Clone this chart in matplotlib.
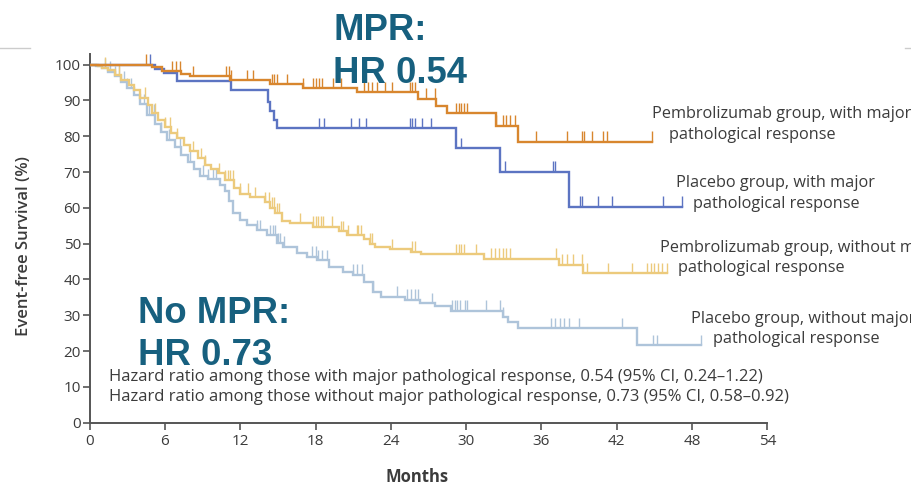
import numpy as np
import matplotlib
matplotlib.use("Agg")
import matplotlib.pyplot as plt
from matplotlib.lines import Line2D

# ---- Kaplan-Meier data (months, event-free survival %) ----
# Pembrolizumab group, with major pathological response
pem_mpr_t = [5.0, 5.8, 7.3, 8.0, 11.2, 14.4, 17.0, 21.3, 26.2, 27.6, 28.5, 32.4, 34.1]
pem_mpr_s = [99.4, 98.2, 97.4, 96.7, 95.7, 94.6, 93.5, 92.3, 90.5, 88.4, 86.4, 82.9, 78.5]
pem_mpr_end = 44.8
pem_mpr_cens = [4.5, 6.6, 6.9, 7.2, 8.2, 10.9, 11.1, 11.3, 12.5, 13.0, 14.5, 14.7, 14.9,
                15.7, 17.0, 17.8, 18.0, 18.3, 18.5, 19.4, 20.0, 21.9, 22.2, 22.5, 22.9,
                23.5, 24.1, 25.5, 25.7, 25.9, 26.8, 27.5, 29.2, 29.4, 29.6, 29.8, 30.1,
                32.4, 32.9, 33.2, 33.5, 33.9, 35.6, 38.0, 39.2, 39.4, 40.0, 40.9, 41.2, 44.8]

# Placebo group, with major pathological response
pla_mpr_t = [5.2, 5.9, 7.0, 11.3, 14.2, 14.4, 14.7, 14.9, 29.2, 32.7, 38.2]
pla_mpr_s = [98.8, 97.6, 95.3, 92.9, 89.5, 87.0, 84.5, 82.2, 76.6, 70.1, 60.3]
pla_mpr_end = 47.2
pla_mpr_cens = [4.8, 18.3, 18.7, 20.8, 21.5, 22.0, 25.5, 25.7, 25.9, 26.5, 27.2, 29.6,
                33.1, 36.9, 37.1, 39.1, 39.2, 40.5, 41.6, 45.7, 47.2]

# Pembrolizumab group, without major pathological response
pem_no_t = [0.7, 1.0, 1.5, 2.0, 2.5, 3.1, 3.5, 4.0, 4.65, 5.0, 5.45, 6.0, 6.5, 7.0, 7.5,
            8.0, 8.6, 9.2, 9.7, 10.2, 10.8, 11.5, 12.0, 12.8, 14.0, 14.4, 14.8, 15.3,
            16.0, 17.8, 19.9, 20.5, 21.9, 22.3, 22.7, 23.9, 25.6, 26.4, 31.4, 37.4, 39.3]
pem_no_s = [99.6, 99.2, 98.5, 97.2, 95.8, 94.3, 92.8, 90.8, 88.7, 86.5, 84.5, 82.6, 81.0,
            79.4, 77.6, 75.9, 73.9, 72.0, 70.8, 69.7, 67.8, 65.5, 64.0, 63.0, 61.5, 60.0,
            58.5, 56.2, 55.7, 54.7, 53.4, 52.4, 51.2, 50.0, 49.0, 48.5, 47.8, 47.0, 45.8,
            44.1, 41.7]
pem_no_end = 46.0
pem_no_cens = [1.2, 2.3, 4.4, 5.2, 6.0, 6.4, 7.0, 8.2, 8.9, 9.2, 10.3, 10.8, 11.0, 11.2,
               11.4, 12.0, 12.6, 13.2, 14.0, 14.3, 14.5, 14.7, 14.9, 15.1, 16.8, 17.8, 18.0,
               18.2, 18.4, 18.6, 19.3, 20.0, 20.2, 20.6, 21.3, 21.4, 21.6, 22.3, 22.5, 24.1,
               25.7, 25.9, 29.2, 29.4, 29.6, 29.8, 30.8, 32.0, 32.3, 32.6, 32.9, 33.2, 33.5,
               37.2, 37.6, 38.0, 38.5, 39.2, 39.6, 41.3, 43.2, 44.4, 44.7, 45.0, 45.3, 45.6, 46.0]

# Placebo group, without major pathological response
pla_no_t = [0.5, 1.0, 1.5, 2.0, 2.5, 3.0, 3.5, 4.0, 4.6, 5.2, 5.7, 6.2, 6.8, 7.3, 7.8, 8.3,
            8.8, 9.4, 10.4, 10.8, 11.1, 11.45, 12.0, 12.5, 13.3, 14.1, 14.9, 15.4, 16.5,
            17.3, 18.1, 19.1, 20.2, 21.0, 21.9, 22.6, 23.2, 25.1, 26.3, 27.5, 28.8, 32.9,
            33.3, 34.1, 43.6]
pla_no_s = [99.6, 99.0, 98.0, 96.8, 95.2, 93.5, 91.5, 89.0, 86.0, 83.5, 81.2, 79.0, 77.0,
            74.8, 72.9, 70.8, 69.0, 68.0, 66.4, 64.8, 62.0, 58.5, 56.5, 55.2, 53.8, 52.4,
            50.1, 49.2, 47.3, 46.4, 45.4, 43.6, 42.2, 41.3, 39.4, 36.6, 35.2, 34.3, 33.4,
            32.6, 31.3, 29.4, 28.2, 26.4, 21.7]
pla_no_end = 48.7
pla_no_cens = [1.2, 1.6, 2.0, 2.3, 2.7, 3.0, 3.3, 4.3, 4.7, 5.1, 5.7, 6.3, 7.2, 8.0, 9.0,
               9.4, 9.8, 10.1, 13.3, 13.6, 14.4, 14.6, 14.8, 15.0, 15.2, 15.5, 17.7, 18.0,
               18.2, 18.5, 18.9, 21.0, 21.3, 21.7, 22.6, 24.5, 25.3, 25.6, 25.9, 26.2, 27.3,
               28.9, 29.1, 29.3, 29.5, 29.9, 30.1, 31.6, 32.7, 32.9, 36.8, 37.1, 37.5, 37.8,
               38.2, 39.0, 42.4, 44.9, 45.2, 48.7]

hr_lines = [
    "Hazard ratio among those with major pathological response, 0.54 (95% CI, 0.24\u20131.22)",
    "Hazard ratio among those without major pathological response, 0.73 (95% CI, 0.58\u20130.92)",
]
x_ticks = [0, 6, 12, 18, 24, 30, 36, 42, 48, 54]
y_ticks = [0, 10, 20, 30, 40, 50, 60, 70, 80, 90, 100]

# ---- styling ----
TEXT = "#3b3b3b"
HL = "#17607f"
C_PEM_MPR = "#d8862e"
C_PLA_MPR = "#5c74c2"
C_PEM_NO = "#ecca7c"
C_PLA_NO = "#aec4da"
LABEL_FONT = ["Open Sans", "DejaVu Sans"]

fig = plt.figure(figsize=(9.11, 4.84), dpi=100)
ax = fig.add_axes([0.0984, 0.1267, 0.7439, 0.7619])
ax.set_xlim(0, 54)
ax.set_ylim(0, 103)


def km(ax, times, surv, end, cens, color, lw):
    xs = [0.0] + list(times) + [end]
    ys = [100.0] + list(surv) + [surv[-1]]
    ax.plot(xs, ys, drawstyle="steps-post", color=color, lw=lw,
            solid_joinstyle="miter", zorder=3)
    levels = np.array([100.0] + list(surv))
    idx = np.searchsorted(np.array(times), np.array(cens), side="right")
    base = levels[idx]
    ax.vlines(cens, base, base + 2.9, color=color, lw=1.0, zorder=3)


km(ax, pla_no_t, pla_no_s, pla_no_end, pla_no_cens, C_PLA_NO, 1.7)
km(ax, pem_no_t, pem_no_s, pem_no_end, pem_no_cens, C_PEM_NO, 1.7)
km(ax, pla_mpr_t, pla_mpr_s, pla_mpr_end, pla_mpr_cens, C_PLA_MPR, 1.7)
km(ax, pem_mpr_t, pem_mpr_s, pem_mpr_end, pem_mpr_cens, C_PEM_MPR, 1.7)

# axes
for s in ("top", "right"):
    ax.spines[s].set_visible(False)
for s in ("left", "bottom"):
    ax.spines[s].set_color("#555555")
    ax.spines[s].set_linewidth(1.4)
ax.set_xticks(x_ticks)
ax.set_yticks(y_ticks)
ax.tick_params(axis="both", direction="out", length=4.8, width=1.2, color="#555555",
               labelcolor=TEXT, labelsize=11)
ax.tick_params(axis="x", pad=3)
ax.tick_params(axis="y", pad=1.5)
for lab in ax.get_xticklabels() + ax.get_yticklabels():
    lab.set_family(LABEL_FONT)

ax.set_xlabel("Months", fontsize=12, fontweight="bold", color=TEXT, family=LABEL_FONT)
ax.xaxis.set_label_coords(0.483, -0.122)
ax.set_ylabel("Event-free Survival (%)", fontsize=12, fontweight="semibold",
              color=TEXT, family=LABEL_FONT)
ax.yaxis.set_label_coords(-0.085, 0.48)

# curve labels
labels = [
    (44.81, 86.3, "Pembrolizumab group, with major"),
    (46.2, 80.4, "pathological response"),
    (46.73, 66.9, "Placebo group, with major"),
    (48.1, 61.2, "pathological response"),
    (45.45, 48.7, "Pembrolizumab group, without major"),
    (46.9, 43.1, "pathological response"),
    (47.9, 29.0, "Placebo group, without major"),
    (49.7, 23.4, "pathological response"),
]
for x, y, s in labels:
    ax.text(x, y, s, fontsize=11.7, color=TEXT, family=LABEL_FONT,
            ha="left", va="center", clip_on=False)

for i, s in enumerate(hr_lines):
    ax.text(1.55, 12.85 - 5.6 * i, s, fontsize=12, color=TEXT, family=LABEL_FONT,
            ha="left", va="center")

# highlighted hazard ratios
big = dict(fontsize=26.3, fontweight="bold", color=HL,
           family=["Liberation Sans", "DejaVu Sans"], ha="left", va="baseline")
fig.text(333 / 911, 1 - 40 / 484, "MPR:", **big)
fig.text(333 / 911, 1 - 83 / 484, "HR 0.54", **big)
fig.text(138 / 911, 1 - 323 / 484, "No MPR:", **big)
fig.text(138 / 911, 1 - 365 / 484, "HR 0.73", **big)

# thin slide rule at the top edge
for x0, x1 in ((0, 30 / 911), (905 / 911, 1)):
    fig.add_artist(Line2D([x0, x1], [1 - 48 / 484] * 2, color="#cccccc", lw=1,
                          transform=fig.transFigure))

fig.savefig("out.png", dpi=100)
